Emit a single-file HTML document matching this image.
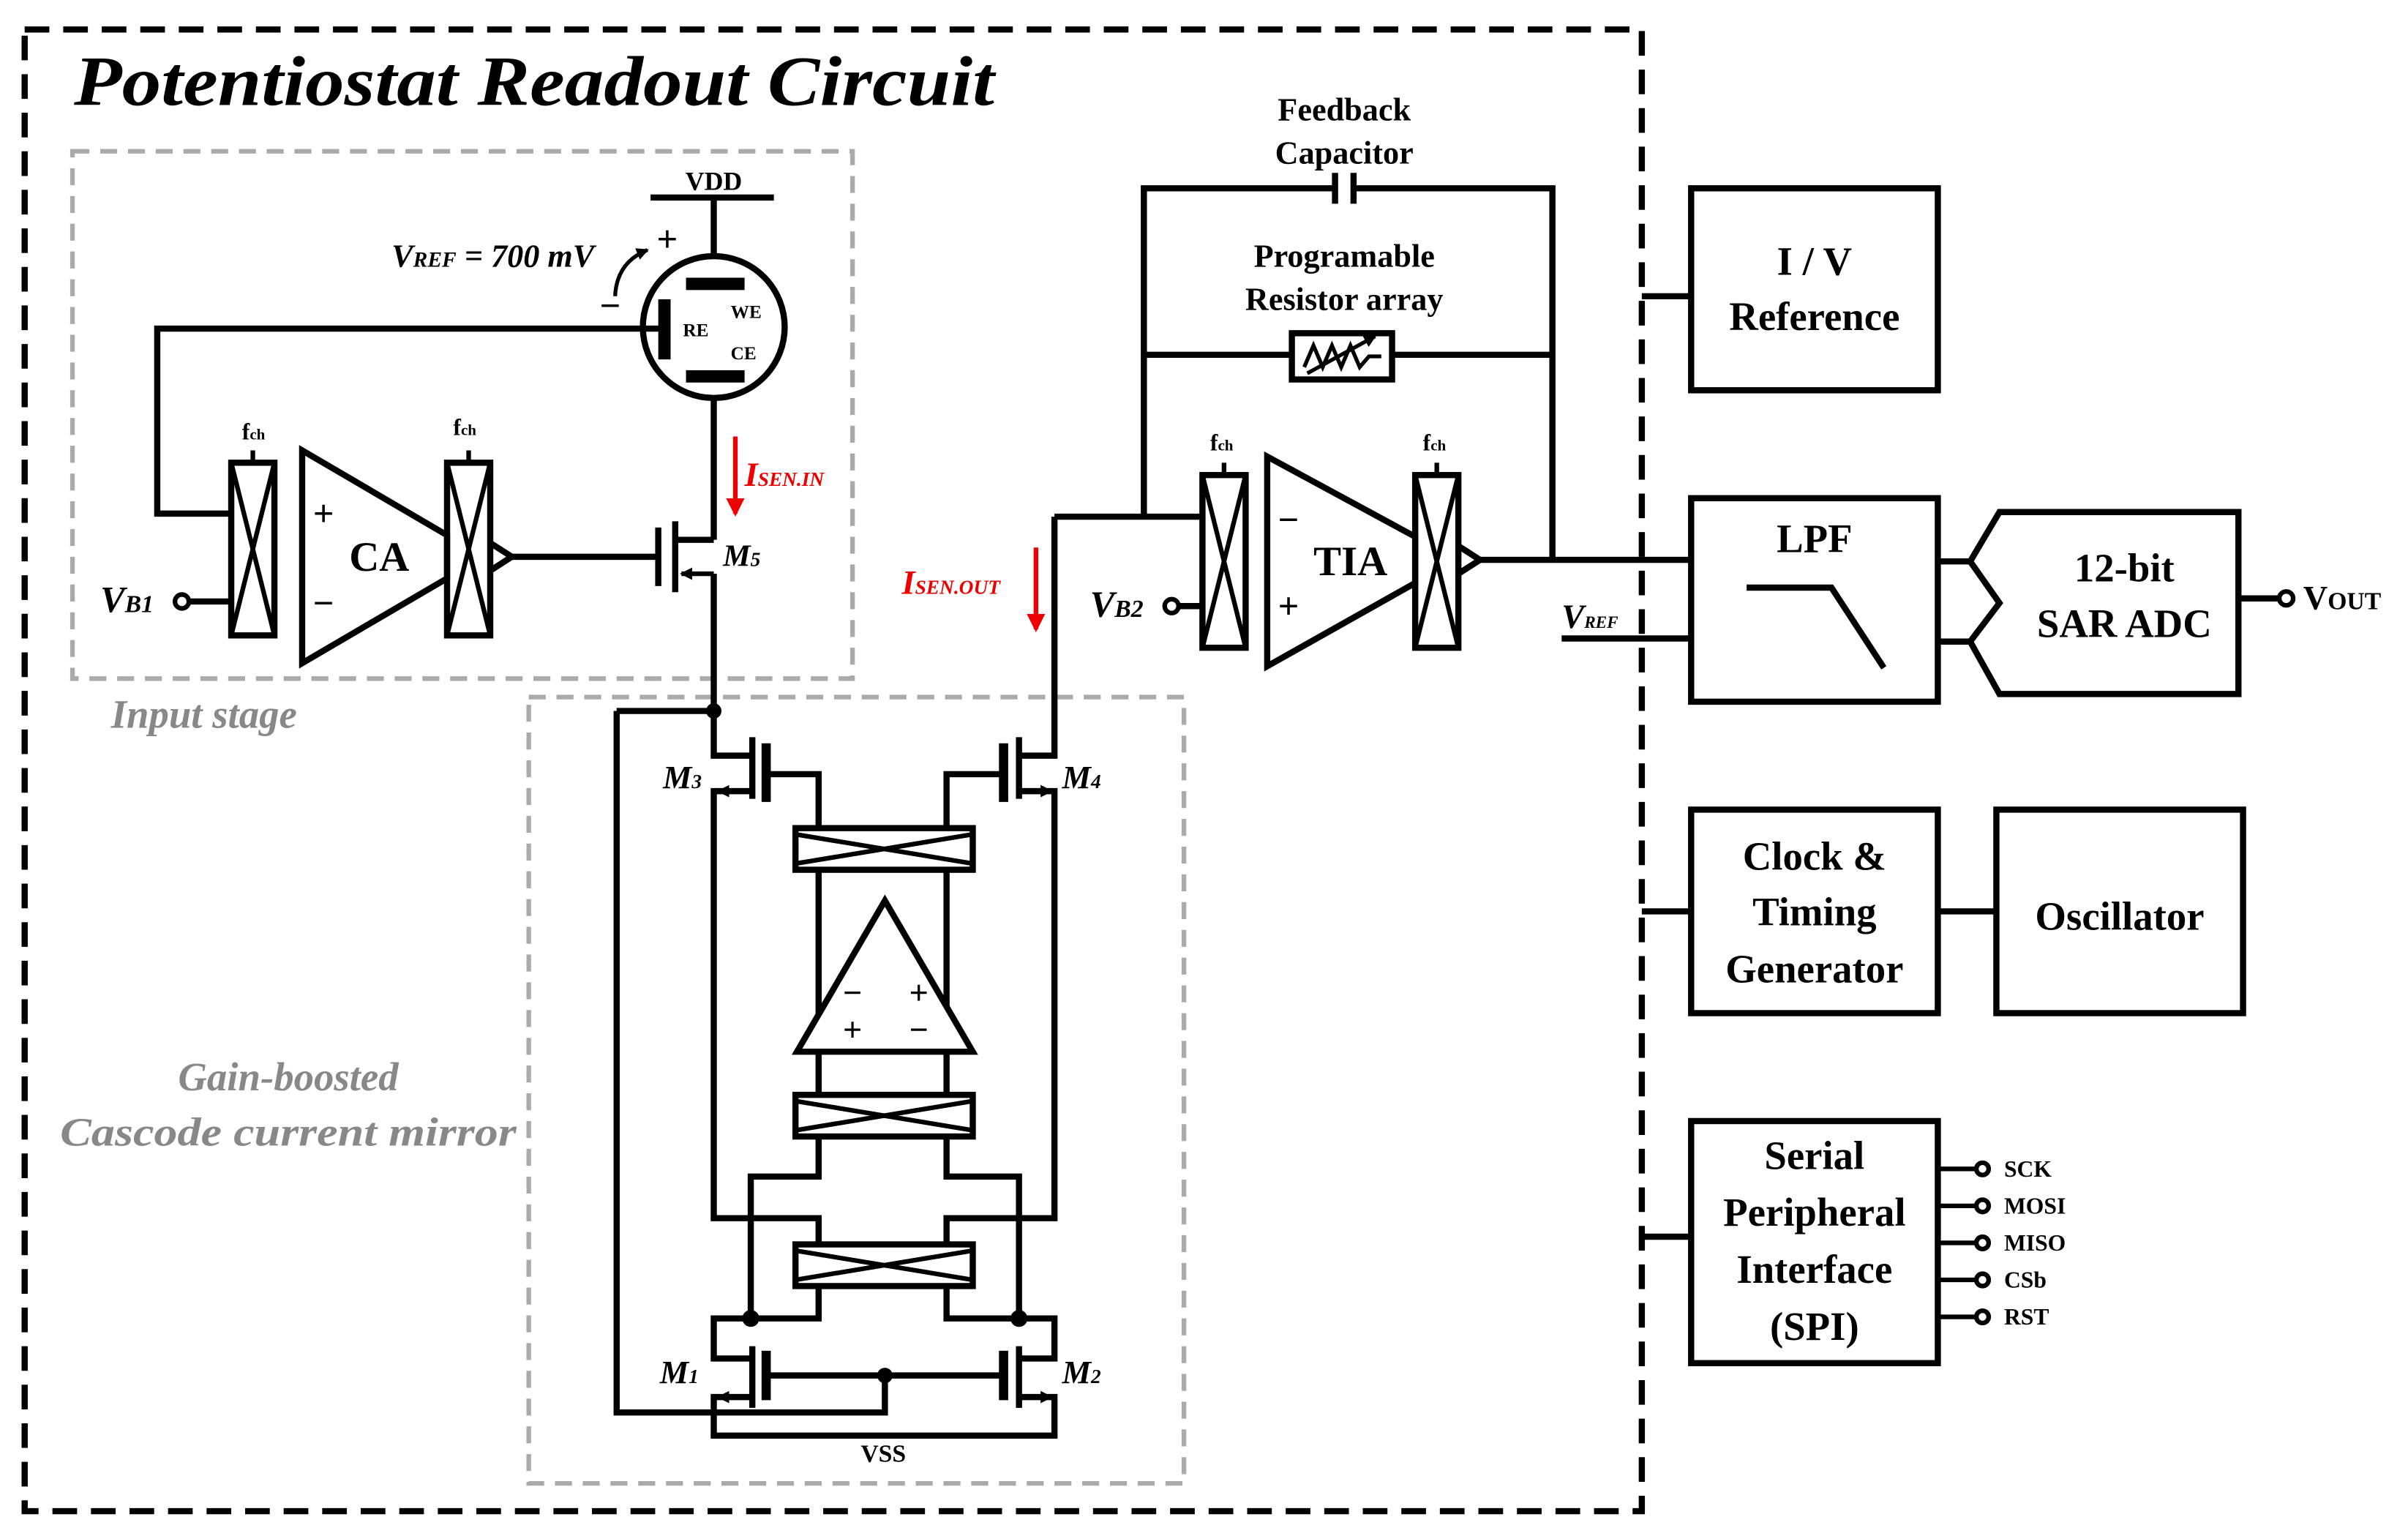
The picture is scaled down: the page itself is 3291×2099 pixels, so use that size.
<!DOCTYPE html>
<html><head><meta charset="utf-8"><style>
html,body{margin:0;padding:0;background:#fff;}
svg{display:block;}
text{font-family:"Liberation Serif",serif;font-weight:bold;}
</style></head><body>
<svg width="3291" height="2099" viewBox="0 0 1562 996" xmlns="http://www.w3.org/2000/svg">
<defs>
<marker id="ar" markerWidth="8" markerHeight="8" refX="7" refY="4" orient="auto" markerUnits="userSpaceOnUse"><path d="M0,0 L8,4 L0,8 z" fill="#000"/></marker>
<marker id="arr" markerWidth="12" markerHeight="12" refX="10" refY="6" orient="auto" markerUnits="userSpaceOnUse"><path d="M0,0 L12,6 L0,12 z" fill="#e00"/></marker>
</defs>
<rect width="1562" height="996" fill="#fff"/>
<rect x="16" y="19" width="1049" height="961" fill="none" stroke="#000" stroke-width="4" stroke-dasharray="16,9"/>
<text x="48" y="68" font-size="46" font-style="italic" textLength="597" lengthAdjust="spacingAndGlyphs">Potentiostat Readout Circuit</text>
<rect x="47" y="98" width="506" height="342" fill="none" stroke="#aaa" stroke-width="3" stroke-dasharray="11,7"/>
<rect x="343" y="452" width="425" height="510" fill="none" stroke="#aaa" stroke-width="3" stroke-dasharray="11,7"/>
<text x="72" y="472" font-size="26" font-style="italic" fill="#888">Input stage</text>
<text x="187" y="707" font-size="26" font-style="italic" fill="#888" text-anchor="middle">Gain-boosted</text>
<text x="187" y="743" font-size="26" font-style="italic" fill="#888" text-anchor="middle" textLength="296" lengthAdjust="spacingAndGlyphs">Cascode current mirror</text>

<g stroke="#000" stroke-width="4" fill="none">
<line x1="422" y1="128" x2="502" y2="128"/>
<line x1="463" y1="128" x2="463" y2="166"/>
<circle cx="463" cy="212" r="46"/>
<rect x="446" y="181" width="36" height="6" fill="#000" stroke-width="2"/>
<rect x="446" y="241" width="36" height="6" fill="#000" stroke-width="2"/>
<rect x="428" y="195" width="6" height="37" fill="#000" stroke-width="2"/>
<line x1="463" y1="258" x2="463" y2="350"/>
<polyline points="428,213 102,213 102,333 150,333"/>
<path d="M399,192 Q400,170 420,162" stroke-width="2.5" marker-end="url(#ar)"/>
<rect x="150" y="300" width="28" height="112"/>
<line x1="150" y1="300" x2="178" y2="412" stroke-width="3"/><line x1="178" y1="300" x2="150" y2="412" stroke-width="3"/>
<line x1="164" y1="292" x2="164" y2="300" stroke-width="3"/>
<polygon points="196,292 196,430 290,375 290,347"/>
<rect x="290" y="300" width="28" height="112"/>
<line x1="290" y1="300" x2="318" y2="412" stroke-width="3"/><line x1="318" y1="300" x2="290" y2="412" stroke-width="3"/>
<line x1="304" y1="292" x2="304" y2="300" stroke-width="3"/>
<polyline points="318,352 332,361 318,370"/>
<line x1="332" y1="361" x2="427" y2="361"/>
<line x1="122" y1="390" x2="150" y2="390"/>
<circle cx="118" cy="390" r="4.5" fill="#fff" stroke-width="3"/>
<line x1="427" y1="342" x2="427" y2="380"/>
<line x1="438" y1="338" x2="438" y2="384"/>
<polyline points="438,350 463,350"/>
<polyline points="463,372 463,461"/>
<line x1="463" y1="372" x2="442" y2="372" marker-end="url(#ar)" stroke-width="3"/>
</g>
<text x="463" y="123" font-size="17" text-anchor="middle">VDD</text>
<text x="443" y="218" font-size="12">RE</text>
<text x="474" y="206" font-size="12">WE</text>
<text x="474" y="233" font-size="12">CE</text>
<text x="254" y="173" font-size="21" font-style="italic" font-weight="normal">V<tspan font-size="14">REF</tspan> = 700 mV</text>
<text x="426" y="163" font-size="24">+</text>
<text x="389" y="206" font-size="24">−</text>
<text x="157" y="285" font-size="15" font-weight="normal">f<tspan font-size="10">ch</tspan></text>
<text x="294" y="282" font-size="15" font-weight="normal">f<tspan font-size="10">ch</tspan></text>
<text x="246" y="370" font-size="27" text-anchor="middle">CA</text>
<text x="203" y="341" font-size="24">+</text>
<text x="203" y="399" font-size="24">−</text>
<text x="65" y="397" font-size="24" font-style="italic">V<tspan font-size="16">B1</tspan></text>
<text x="469" y="367" font-size="20" font-style="italic" font-weight="normal">M<tspan font-size="13">5</tspan></text>
<line x1="477" y1="283" x2="477" y2="333" stroke="#e00" stroke-width="3" marker-end="url(#arr)"/>
<text x="483" y="315" font-size="22" font-style="italic" fill="#e00">I<tspan font-size="13">SEN.IN</tspan></text>

<g stroke="#000" stroke-width="4" fill="none">
<polyline points="400,461 463,461 463,490 488,490"/>
<line x1="488" y1="478" x2="488" y2="518"/>
<line x1="497" y1="482" x2="497" y2="520" stroke-width="6"/>
<polyline points="497,502 531,502 531,536"/>
<polyline points="488,513 463,513 463,790 531,790 531,807"/>
<line x1="488" y1="513" x2="466" y2="513" stroke-width="3" marker-end="url(#ar)"/>
<polyline points="684,335 684,490 661,490"/>
<line x1="661" y1="478" x2="661" y2="518"/>
<line x1="651" y1="482" x2="651" y2="520" stroke-width="6"/>
<polyline points="651,502 614,502 614,536"/>
<polyline points="661,513 684,513 684,790 614,790 614,807"/>
<line x1="661" y1="513" x2="682" y2="513" stroke-width="3" marker-end="url(#ar)"/>
<rect x="516" y="537" width="115" height="27"/>
<line x1="516" y1="541" x2="631" y2="560" stroke-width="3"/><line x1="516" y1="560" x2="631" y2="541" stroke-width="3"/>
<line x1="531" y1="564" x2="531" y2="710"/><line x1="614" y1="564" x2="614" y2="710"/>
<polygon points="574,584 517,682 631,682" fill="#fff"/>
<rect x="516" y="710" width="115" height="27"/>
<line x1="516" y1="714" x2="631" y2="733" stroke-width="3"/><line x1="516" y1="733" x2="631" y2="714" stroke-width="3"/>
<polyline points="531,737 531,763 487,763 487,855"/>
<polyline points="614,737 614,763 661,763 661,855"/>
<rect x="516" y="807" width="115" height="27"/>
<line x1="516" y1="811" x2="631" y2="830" stroke-width="3"/><line x1="516" y1="830" x2="631" y2="811" stroke-width="3"/>
<polyline points="531,834 531,855 463,855 463,881 488,881"/>
<polyline points="614,834 614,855 684,855 684,881 661,881"/>
<line x1="488" y1="873" x2="488" y2="913"/>
<line x1="497" y1="876" x2="497" y2="908" stroke-width="6"/>
<line x1="661" y1="873" x2="661" y2="913"/>
<line x1="651" y1="876" x2="651" y2="908" stroke-width="6"/>
<line x1="497" y1="892" x2="651" y2="892"/>
<polyline points="574,892 574,916 400,916 400,461"/>
<polyline points="488,906 463,906 463,931 684,931 684,906 661,906"/>
<line x1="488" y1="906" x2="466" y2="906" stroke-width="3" marker-end="url(#ar)"/>
<line x1="661" y1="906" x2="682" y2="906" stroke-width="3" marker-end="url(#ar)"/>
</g>
<g fill="#000"><circle cx="463" cy="461" r="5"/><circle cx="487" cy="855" r="5.5"/><circle cx="661" cy="855" r="5.5"/><circle cx="574" cy="892" r="5"/></g>
<text x="553" y="651" font-size="22" text-anchor="middle">−</text><text x="596" y="651" font-size="22" text-anchor="middle">+</text>
<text x="553" y="675" font-size="22" text-anchor="middle">+</text><text x="596" y="675" font-size="22" text-anchor="middle">−</text>
<text x="430" y="511" font-size="21" font-style="italic" font-weight="normal">M<tspan font-size="13">3</tspan></text>
<text x="689" y="511" font-size="21" font-style="italic" font-weight="normal">M<tspan font-size="13">4</tspan></text>
<text x="428" y="897" font-size="21" font-style="italic" font-weight="normal">M<tspan font-size="13">1</tspan></text>
<text x="689" y="897" font-size="21" font-style="italic" font-weight="normal">M<tspan font-size="13">2</tspan></text>
<text x="573" y="948" font-size="16" text-anchor="middle">VSS</text>
<line x1="672" y1="355" x2="672" y2="408" stroke="#e00" stroke-width="3" marker-end="url(#arr)"/>
<text x="585" y="385" font-size="22" font-style="italic" fill="#e00">I<tspan font-size="13">SEN.OUT</tspan></text>

<g stroke="#000" stroke-width="4" fill="none">
<polyline points="684,335 780,335"/>
<polyline points="742,335 742,122 866,122"/>
<polyline points="878,122 1007,122 1007,363"/>
<line x1="866" y1="112" x2="866" y2="132"/><line x1="878" y1="112" x2="878" y2="132"/>
<line x1="742" y1="230" x2="838" y2="230"/><line x1="903" y1="230" x2="1007" y2="230"/>
<rect x="838" y="216" width="65" height="30"/>
<polyline points="846,238 852,224 858,238 864,224 870,238 876,224 882,238 888,231 896,231" stroke-width="2.5"/>
<line x1="848" y1="242" x2="892" y2="218" stroke-width="2.5" marker-end="url(#ar)"/>
<rect x="780" y="308" width="28" height="112"/>
<line x1="780" y1="308" x2="808" y2="420" stroke-width="3"/><line x1="808" y1="308" x2="780" y2="420" stroke-width="3"/>
<line x1="794" y1="300" x2="794" y2="308" stroke-width="3"/>
<polygon points="822,296 822,432 918,378 918,348"/>
<rect x="918" y="308" width="28" height="112"/>
<line x1="918" y1="308" x2="946" y2="420" stroke-width="3"/><line x1="946" y1="308" x2="918" y2="420" stroke-width="3"/>
<line x1="932" y1="300" x2="932" y2="308" stroke-width="3"/>
<polyline points="946,354 960,363 946,372"/>
<line x1="960" y1="363" x2="1097" y2="363"/>
<line x1="764" y1="393" x2="780" y2="393"/>
<circle cx="760" cy="393" r="4.5" fill="#fff" stroke-width="3"/>
<line x1="1013" y1="414" x2="1097" y2="414"/>
<line x1="1065" y1="192" x2="1097" y2="192"/>
<line x1="1065" y1="591" x2="1097" y2="591"/>
<line x1="1065" y1="802" x2="1097" y2="802"/>
<rect x="1097" y="122" width="160" height="131"/>
<rect x="1097" y="323" width="160" height="132"/>
<polyline points="1133,381 1188,381 1222,433"/>
<polygon points="1297,332 1452,332 1452,450 1297,450 1278,416 1297,391 1278,364"/>
<line x1="1257" y1="364" x2="1278" y2="364"/><line x1="1257" y1="416" x2="1278" y2="416"/>
<line x1="1452" y1="388" x2="1478" y2="388"/>
<circle cx="1483" cy="388" r="4.5" fill="#fff" stroke-width="3"/>
<rect x="1097" y="525" width="160" height="132"/>
<rect x="1295" y="525" width="160" height="132"/>
<line x1="1257" y1="591" x2="1295" y2="591"/>
<rect x="1097" y="727" width="160" height="157"/>
<g stroke-width="3">
<line x1="1257" y1="758" x2="1282" y2="758"/><circle cx="1286" cy="758" r="4" fill="#fff"/>
<line x1="1257" y1="782" x2="1282" y2="782"/><circle cx="1286" cy="782" r="4" fill="#fff"/>
<line x1="1257" y1="806" x2="1282" y2="806"/><circle cx="1286" cy="806" r="4" fill="#fff"/>
<line x1="1257" y1="830" x2="1282" y2="830"/><circle cx="1286" cy="830" r="4" fill="#fff"/>
<line x1="1257" y1="854" x2="1282" y2="854"/><circle cx="1286" cy="854" r="4" fill="#fff"/>
</g>
</g>
<text x="872" y="78" font-size="21" text-anchor="middle">Feedback</text>
<text x="872" y="106" font-size="21" text-anchor="middle">Capacitor</text>
<text x="872" y="173" font-size="21" text-anchor="middle">Programable</text>
<text x="872" y="201" font-size="21" text-anchor="middle">Resistor array</text>
<text x="785" y="292" font-size="15" font-weight="normal">f<tspan font-size="10">ch</tspan></text>
<text x="923" y="292" font-size="15" font-weight="normal">f<tspan font-size="10">ch</tspan></text>
<text x="876" y="373" font-size="27" text-anchor="middle">TIA</text>
<text x="829" y="345" font-size="24">−</text>
<text x="829" y="401" font-size="24">+</text>
<text x="707" y="400" font-size="24" font-style="italic">V<tspan font-size="16">B2</tspan></text>
<text x="1013" y="407" font-size="22" font-style="italic">V<tspan font-size="11">REF</tspan></text>
<g font-size="26" text-anchor="middle">
<text x="1177" y="178">I / V</text>
<text x="1177" y="214">Reference</text>
<text x="1177" y="358">LPF</text>
<text x="1378" y="377">12-bit</text>
<text x="1378" y="413">SAR ADC</text>
<text x="1177" y="564">Clock &amp;</text>
<text x="1177" y="600">Timing</text>
<text x="1177" y="637">Generator</text>
<text x="1375" y="603">Oscillator</text>
<text x="1177" y="758">Serial</text>
<text x="1177" y="795">Peripheral</text>
<text x="1177" y="832">Interface</text>
<text x="1177" y="869">(SPI)</text>
</g>
<text x="1494" y="395" font-size="22">V<tspan font-size="16">OUT</tspan></text>
<g font-size="15">
<text x="1300" y="763">SCK</text><text x="1300" y="787">MOSI</text><text x="1300" y="811">MISO</text><text x="1300" y="835">CSb</text><text x="1300" y="859">RST</text>
</g>
</svg>
</body></html>
